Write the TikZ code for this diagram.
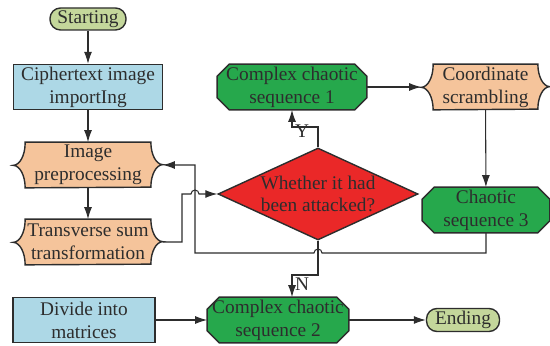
\documentclass[tikz,border=0pt]{standalone}
\usepackage{fontspec}
\setmainfont{Liberation Serif}
\usetikzlibrary{arrows.meta,shapes.geometric,backgrounds,calc}

\definecolor{startgreen}{RGB}{196,215,155}
\definecolor{boxblue}{RGB}{173,216,230}
\definecolor{boxpeach}{RGB}{245,196,155}
\definecolor{octgreen}{RGB}{38,168,76}
\definecolor{diared}{RGB}{234,40,40}
\definecolor{inkgray}{RGB}{45,45,45}

% peach box with notched corners
\newcommand{\scrollbox}[4]{%
  \node[plainbox, minimum width=#3] (#1) at #2 {#4};
  \begin{scope}[on background layer]
    \filldraw[fill=boxpeach, draw=inkgray, line width=0.8pt]
      ($(#1.north west)+(0.24,0)$) -- ($(#1.north east)+(-0.24,0)$)
      arc[start angle=180, end angle=270, x radius=0.24, y radius=0.45]
      arc[start angle=90, end angle=180, x radius=0.24, y radius=0.45]
      -- ($(#1.south west)+(0.24,0)$)
      arc[start angle=0, end angle=90, x radius=0.24, y radius=0.45]
      arc[start angle=270, end angle=360, x radius=0.24, y radius=0.45]
      -- cycle;
  \end{scope}}

% green box with cut corners
\newcommand{\octbox}[4]{%
  \node[plainbox, minimum width=#3] (#1) at #2 {#4};
  \begin{scope}[on background layer]
    \filldraw[fill=octgreen, draw=inkgray, line width=0.8pt]
      ($(#1.north west)+(0.24,0)$) -- ($(#1.north east)+(-0.24,0)$)
      -- ($(#1.north east)+(0,-0.24)$) -- ($(#1.south east)+(0,0.24)$)
      -- ($(#1.south east)+(-0.24,0)$) -- ($(#1.south west)+(0.24,0)$)
      -- ($(#1.south west)+(0,0.24)$) -- ($(#1.north west)+(0,-0.24)$)
      -- cycle;
  \end{scope}}

\begin{document}
\begin{tikzpicture}[
    every node/.style={font=\fontsize{11}{13}\selectfont, text=inkgray, align=center},
    terminal/.style={draw=inkgray, line width=0.8pt, rounded corners=6pt, fill=startgreen,
      minimum width=1.52cm, minimum height=0.44cm, inner sep=0pt},
    process/.style={draw=inkgray, line width=0.8pt, fill=boxblue, minimum height=0.9cm, inner sep=0pt},
    plainbox/.style={minimum height=0.9cm, inner sep=0pt},
    decision/.style={diamond, draw=inkgray, line width=0.8pt, fill=diared, aspect=2.17,
      minimum width=4cm, minimum height=1.84cm, inner sep=0pt},
    flow/.style={-{Latex[length=2.4mm,width=1.6mm]}, line width=0.6pt, draw=inkgray},
    lbl/.style={inner sep=1pt}]
    \useasboundingbox (0,0) rectangle (11,6.9);

    \node[terminal] (start) at (1.76,6.52) {Starting};
    \node[process, minimum width=2.98cm] (cipher) at (1.76,5.16) {Ciphertext image\\importIng};
    \scrollbox{prep}{(1.76,3.60)}{2.98cm}{Image\\preprocessing}
    \scrollbox{trans}{(1.76,2.06)}{2.98cm}{Transverse sum\\transformation}
    \node[process, minimum width=2.84cm] (divide) at (1.68,0.50) {Divide into\\matrices};

    \octbox{cc1}{(5.84,5.16)}{2.98cm}{Complex chaotic\\sequence 1}
    \scrollbox{coord}{(9.71,5.16)}{2.56cm}{Coordinate\\scrambling}
    \node[decision] (attack) at (6.36,3.02) {Whether it had\\been attacked?};
    \octbox{cc3}{(9.72,2.70)}{2.54cm}{Chaotic\\sequence 3}
    \octbox{cc2}{(5.56,0.50)}{2.82cm}{Complex chaotic\\sequence 2}
    \node[terminal, minimum width=1.46cm, minimum height=0.46cm] (finish) at (9.26,0.50) {Ending};

    \draw[flow] (start) -- (cipher);
    \draw[flow] (cipher) -- (prep);
    \draw[flow] (prep) -- (trans);
    \draw[flow] (trans.east) -- (3.64,2.06) -- (3.64,3.02) -- (3.82,3.02)
        arc[start angle=180, end angle=0, radius=0.08] -- (attack.west);
    \draw[flow] (attack.north) -- (6.36,4.36) -- (5.84,4.36) -- (cc1.south);
    \node[lbl] (ylab) at (6.04,4.27) {Y};
    \draw[flow] (cc1) -- (coord);
    \draw[flow] (coord) -- (cc3);
    \draw[flow] (cc3.south) -- (9.72,1.84) -- (6.44,1.84)
        arc[start angle=0, end angle=180, radius=0.08] -- (3.90,1.84) -- (3.90,3.60) -- (prep.east);
    \draw[flow] (attack.south) -- (6.36,1.40) -- (5.84,1.40) -- (5.84,1.40 |- cc2.north);
    \node[lbl] (nlab) at (6.04,1.22) {N};
    \draw[flow] (divide) -- (cc2);
    \draw[flow] (cc2) -- (finish);
\end{tikzpicture}
\end{document}
